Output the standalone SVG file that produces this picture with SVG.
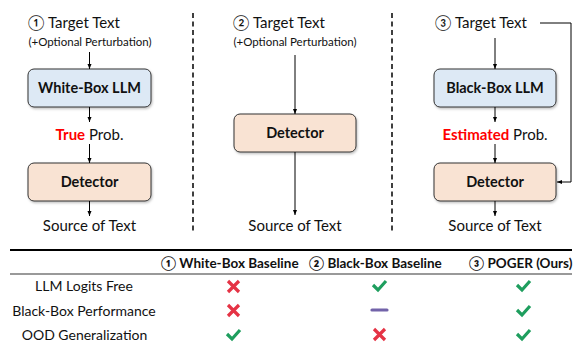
<svg xmlns="http://www.w3.org/2000/svg" width="576" height="343" viewBox="0 0 576 343">
<defs>
<marker id="ah" viewBox="0 0 10 10" refX="10" refY="5" markerWidth="5" markerHeight="5" orient="auto" markerUnits="userSpaceOnUse">
<path d="M0,1 L10,5 L0,9 z" fill="#000"/>
</marker>
<filter id="sh" x="-10%" y="-10%" width="120%" height="130%">
<feDropShadow dx="1" dy="1.5" stdDeviation="1" flood-color="#000" flood-opacity="0.25"/>
</filter>
</defs>
<style>
text{font-family:Lato,"Liberation Sans","DejaVu Sans",sans-serif;fill:#111}
.t{font-size:15px}
.s{font-size:11.5px}
.b{font-size:14.5px;font-weight:bold}
.h{font-size:13.5px;font-weight:bold}
.r{font-size:14px}
.red{fill:#ff0000;font-weight:bold}
.llm{fill:#dde9f5;stroke:#333;stroke-width:1}
.det{fill:#f9e3d3;stroke:#333;stroke-width:1}
.ar{stroke:#000;stroke-width:1;fill:none;marker-end:url(#ah)}
.sep{stroke:#000;stroke-width:1.5;stroke-dasharray:5 3.5;fill:none}
.x{stroke:#e53345;stroke-width:3.2;stroke-linecap:butt;fill:none}
.ck{stroke:#1e9e5e;stroke-width:3.2;fill:none;stroke-linejoin:miter}
</style>

<g id="separators">
<line class="sep" x1="193" y1="13" x2="193" y2="233"/>
<line class="sep" x1="392" y1="13" x2="392" y2="233"/>
</g>

<g id="col1-target">
<text class="t" x="28" y="28">①  Target Text</text>
<text class="s" x="90" y="45.5" text-anchor="middle">(+Optional Perturbation)</text>
</g>
<g id="col1-llm">
<rect class="llm" x="28" y="69" width="123" height="38" rx="6" filter="url(#sh)"/>
<text class="b" x="89.5" y="93" text-anchor="middle">White-Box LLM</text>
</g>
<g id="col1-prob">
<text class="t" x="89.5" y="140" text-anchor="middle"><tspan class="red">True</tspan> Prob.</text>
</g>
<g id="col1-detector">
<rect class="det" x="28" y="163" width="123" height="38" rx="6" filter="url(#sh)"/>
<text class="b" x="89.5" y="187" text-anchor="middle">Detector</text>
</g>
<g id="col1-source">
<text class="t" x="89.5" y="231" text-anchor="middle">Source of Text</text>
</g>

<g id="col2-target">
<text class="t" x="233" y="28">②  Target Text</text>
<text class="s" x="295" y="45.5" text-anchor="middle">(+Optional Perturbation)</text>
</g>
<g id="col2-detector">
<rect class="det" x="234" y="114" width="122" height="38" rx="6" filter="url(#sh)"/>
<text class="b" x="295" y="138" text-anchor="middle">Detector</text>
</g>
<g id="col2-source">
<text class="t" x="295" y="231" text-anchor="middle">Source of Text</text>
</g>

<g id="col3-target">
<text class="t" x="435" y="28">③  Target Text</text>
</g>
<g id="col3-llm">
<rect class="llm" x="434" y="69" width="122" height="38" rx="6" filter="url(#sh)"/>
<text class="b" x="495" y="93" text-anchor="middle">Black-Box LLM</text>
</g>
<g id="col3-prob">
<text class="t" x="495" y="140" text-anchor="middle"><tspan class="red">Estimated</tspan> Prob.</text>
</g>
<g id="col3-detector">
<rect class="det" x="434" y="163" width="122" height="38" rx="6" filter="url(#sh)"/>
<text class="b" x="495" y="187" text-anchor="middle">Detector</text>
</g>
<g id="col3-source">
<text class="t" x="495" y="231" text-anchor="middle">Source of Text</text>
</g>

<g id="connectors">
<line class="ar" x1="89.5" y1="52" x2="89.5" y2="69"/>
<line class="ar" x1="89.5" y1="107" x2="89.5" y2="122"/>
<line class="ar" x1="89.5" y1="144" x2="89.5" y2="163"/>
<line class="ar" x1="89.5" y1="201" x2="89.5" y2="216"/>
<line class="ar" x1="295" y1="55" x2="295" y2="114"/>
<line class="ar" x1="295" y1="152" x2="295" y2="215"/>
<line class="ar" x1="495" y1="38" x2="495" y2="69"/>
<line class="ar" x1="495" y1="107" x2="495" y2="122"/>
<line class="ar" x1="495" y1="144" x2="495" y2="163"/>
<line class="ar" x1="495" y1="201" x2="495" y2="216"/>
<polyline class="ar" points="540,23 571,23 571,182 557,182"/>
</g>

<g id="table">
<line x1="10" y1="250" x2="572" y2="250" stroke="#000" stroke-width="2"/>
<line x1="10" y1="274" x2="572" y2="274" stroke="#777" stroke-width="1.5"/>
<text class="h" x="161" y="268">① White-Box Baseline</text>
<text class="h" x="309" y="268">② Black-Box Baseline</text>
<text class="h" x="469" y="268">③ POGER (Ours)</text>
<text class="r" x="84" y="291" text-anchor="middle">LLM Logits Free</text>
<text class="r" x="84" y="316" text-anchor="middle">Black-Box Performance</text>
<text class="r" x="84.5" y="340" text-anchor="middle">OOD Generalization</text>
<!-- row 1 -->
<path class="x" d="M228,281 L239,292 M239,281 L228,292"/>
<path class="ck" d="M373,285 L378,290 L386,281"/>
<path class="ck" d="M517,285 L522,290 L530,281"/>
<!-- row 2 -->
<path class="x" d="M228,305 L239,316 M239,305 L228,316"/>
<line x1="372" y1="310" x2="387" y2="310" stroke="#7263a9" stroke-width="3.2" stroke-linecap="round"/>
<path class="ck" d="M517,310 L522,315 L530,306"/>
<!-- row 3 -->
<path class="ck" d="M227,334 L232,339 L240,330"/>
<path class="x" d="M374,329 L385,340 M385,329 L374,340"/>
<path class="ck" d="M517,334 L522,339 L530,330"/>
</g>
</svg>
